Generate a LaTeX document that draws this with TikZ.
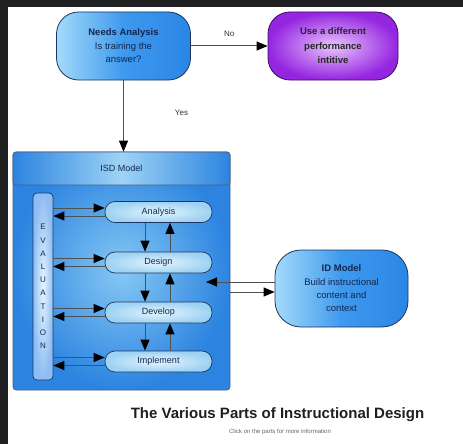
\documentclass[tikz,border=0pt]{standalone}
\usepackage{fontspec}
\setmainfont{Liberation Sans}
\usetikzlibrary{arrows.meta,calc}
\definecolor{navytxt}{HTML}{14264F}
\definecolor{edge}{HTML}{1D3560}
\definecolor{bluedk}{HTML}{2A86E4}
\definecolor{bluemd}{HTML}{3E9AEE}
\definecolor{bluelt}{HTML}{A4DAFA}
\definecolor{boxout}{HTML}{2C84E0}
\definecolor{boxin}{HTML}{86C8F4}
\definecolor{stgin}{HTML}{E4F5FE}
\definecolor{stgout}{HTML}{9ED2F2}
\definecolor{purpout}{HTML}{9526E0}
\definecolor{purpin}{HTML}{E8C4FF}
\definecolor{purpedge}{HTML}{3A0F5E}
\definecolor{frame}{HTML}{202022}
\definecolor{linegray}{HTML}{505050}
\begin{document}
\begin{tikzpicture}[x=1pt,y=-1pt,
  arrtip/.style={-{Triangle[length=11pt,width=9pt,color=black]}},
  conn/.style={draw=linegray,line width=1pt,arrtip},
  bigblue/.style={draw=edge,line width=0.8pt,rounded corners=22pt,
    left color=bluelt,right color=bluedk,middle color=bluemd,align=center,text=navytxt,
    font=\fontsize{9.5}{13.5}\selectfont,inner sep=0pt},
  purpbox/.style={draw=purpedge,line width=0.8pt,rounded corners=22pt,
    inner color=purpin,outer color=purpout,align=center,text=black!85,
    font=\fontsize{9.5}{14.5}\selectfont\bfseries,inner sep=0pt},
  stage/.style={draw=edge,line width=0.7pt,rounded corners=10pt,
    inner color=stgin,outer color=stgout,text=navytxt,
    font=\fontsize{9}{11}\selectfont,inner sep=0pt,
    minimum width=107pt,minimum height=21pt},
  lbl/.style={font=\fontsize{8}{10}\selectfont,text=black!80},
]
\useasboundingbox (0,0) rectangle (463,444);
% frame
\fill[frame] (0,0) rectangle (463,444);
\fill[white] (8,7) rectangle (463,444);

% top nodes
\node[bigblue,minimum width=134pt,minimum height=68pt] (needs) at (123.5,46)
  {{\bfseries Needs Analysis}\\Is training the\\answer?};
\node[purpbox,minimum width=130pt,minimum height=68pt] (alt) at (333,46)
  {Use a different\\performance\\intitive};

% ISD model box
\node[draw=edge!80,line width=0.6pt,rounded corners=3pt,inner color=boxin,outer color=boxout,
  minimum width=217pt,minimum height=238pt,inner sep=0pt] (isd) at (121.5,271) {};
\node[draw=edge!80,line width=0.6pt,rounded corners=3pt,inner sep=0pt,
  left color=boxout,right color=boxout,middle color=boxin!80,
  minimum width=217pt,minimum height=33pt,
  font=\fontsize{9}{11}\selectfont,text=navytxt] (isdhead) at (121.5,168.5) {ISD Model};

% evaluation bar
\node[draw=edge,line width=0.7pt,rounded corners=4pt,inner color=stgin,outer color=stgout!90!blue,
  minimum width=20pt,minimum height=187pt,inner sep=0pt,align=center,text=navytxt,
  font=\fontsize{8}{13.2}\selectfont] (eval) at (43,286.5)
  {E\\V\\A\\L\\U\\A\\T\\I\\O\\N};

% stages
\node[stage] (ana) at (158.5,212) {Analysis};
\node[stage] (des) at (158.5,262.5) {Design};
\node[stage] (dev) at (158.5,312.5) {Develop};
\node[stage] (imp) at (158.5,361.5) {Implement};

% ID model
\node[bigblue,rounded corners=26pt,minimum width=133pt,minimum height=77pt,
  font=\fontsize{9.5}{13.3}\selectfont] (idm) at (341.5,288.5)
  {{\bfseries ID Model}\\Build instructional\\content and\\context};

% top connectors
\draw[conn] (needs.east) -- node[lbl,above=6pt] {No} (alt.west);
\draw[conn] (needs.south) -- node[lbl,pos=0.45,xshift=58pt] {Yes} (isd.north -| needs.south);

% evaluation <-> stages
\foreach \s in {ana,des,dev,imp}{
  \draw[conn] ([yshift=4pt]\s.west -| eval.east) -- ([yshift=4pt]\s.west);
  \draw[conn] ([yshift=-4pt]\s.west) -- ([yshift=-4pt]\s.west -| eval.east);
}

% stage <-> stage
\foreach \a/\b in {ana/des,des/dev,dev/imp}{
  \draw[conn] ([xshift=-13.5pt]\a.south) -- ([xshift=-13.5pt]\b.north);
  \draw[conn] ([xshift=11.5pt]\b.north) -- ([xshift=11.5pt]\a.south);
}

% ID model <-> ISD
\coordinate (intip) at (206,282);
\draw[conn] (idm.west |- intip) -- (intip);
\draw[conn] (isd.east |- 0,292) -- (idm.west |- 0,292);

% title
\node[font=\fontsize{15}{18}\selectfont\bfseries,text=black!88] (title) at (277.5,415)
  {The Various Parts of Instructional Design};
\node[font=\fontsize{6}{7}\selectfont,text=black!60] (sub) at (280,432)
  {Click on the parts for more information};
\end{tikzpicture}
\end{document}
